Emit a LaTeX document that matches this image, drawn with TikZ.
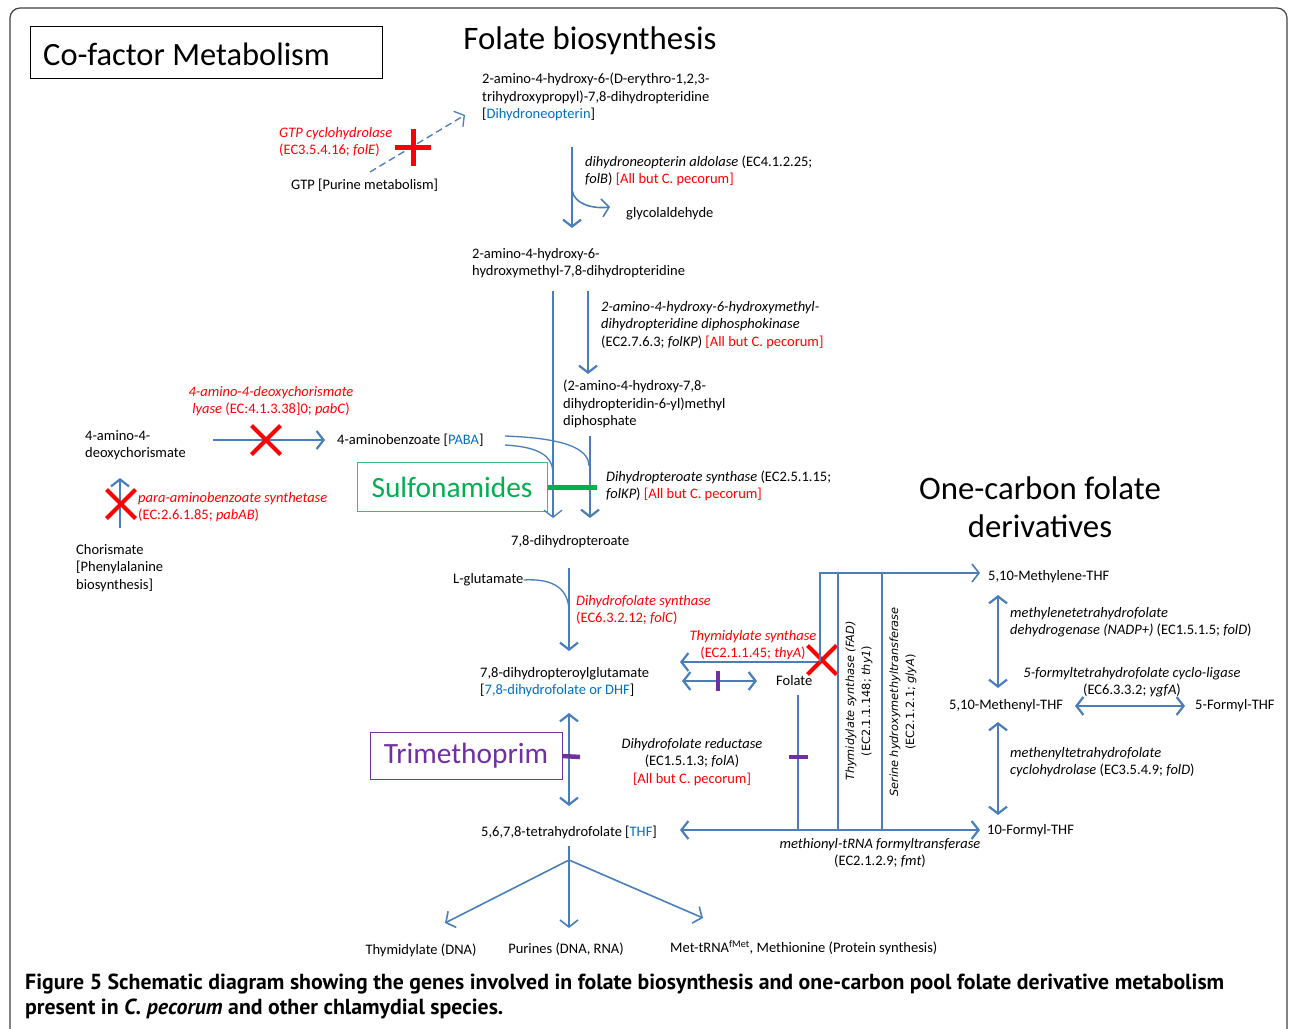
\documentclass[tikz,border=0pt]{standalone}
\usepackage{fontspec}
\setmainfont{Carlito}
\newfontfamily\verdfont{DejaVu Sans}
\newfontfamily\capfont{PT Sans}
\usepackage{tikz}
\usetikzlibrary{arrows.meta, shapes.misc}

\definecolor{arrblue}{HTML}{4A7EBB}
\definecolor{txtblue}{HTML}{0070C0}
\definecolor{sulfgreen}{HTML}{00B050}
\definecolor{trimpurple}{HTML}{7030A0}
\definecolor{framegray}{HTML}{404040}

\newcommand{\txtsz}{\fontsize{14.5}{17.5}\selectfont}
\newcommand{\titlesz}{\fontsize{32.8}{38}\selectfont}

\begin{document}
\begin{tikzpicture}[x=1pt,y=-1pt,
  txt/.style={font=\txtsz, inner sep=0pt, anchor=west, align=left},
  ctxt/.style={font=\txtsz, inner sep=0pt, align=center},
  arr/.style={draw=arrblue, line width=2.2pt, -{Straight Barb[length=7pt,width=18pt]}},
  dblarr/.style={draw=arrblue, line width=2.2pt, {Straight Barb[length=7pt,width=18pt]}-{Straight Barb[length=7pt,width=18pt]}},
  thinline/.style={draw=arrblue, line width=1.3pt},
  knock/.style={cross out, draw=red, line width=4pt, minimum size=25pt, inner sep=0pt},
  tick/.style={draw=trimpurple, line width=4.5pt}]
\useasboundingbox (0,0) rectangle (1290,1028);
% frame
\draw[framegray, line width=1.2pt, rounded corners=10pt] (10,1050) -- (10,8) -- (1287,8) -- (1287,1050);
% titles
\draw[black, line width=1pt] (30,26) rectangle (382,78);
\node[anchor=west, inner sep=0pt, font=\fontsize{32.5}{36}\selectfont] (cofactor) at (43,54) {Co-factor Metabolism};
\node[font=\titlesz, inner sep=0pt] (foltitle) at (590,41) {Folate biosynthesis};
\node[font=\titlesz, inner sep=0pt, align=center] (onec) at (1040,507) {One-carbon folate\\derivatives};

% folate biosynthesis compounds
\node[txt] (dhneo) at (482,97) {2-amino-4-hydroxy-6-(D-erythro-1,2,3-\\trihydroxypropyl)-7,8-dihydropteridine\\{[}\textcolor{txtblue}{Dihydroneopterin}{]}};
\node[txt] (gtp) at (291,185) {GTP [Purine metabolism]};
\node[txt] (glyald) at (626,214) {glycolaldehyde};
\node[txt] (hmdhp) at (472,263) {2-amino-4-hydroxy-6-\\hydroxymethyl-7,8-dihydropteridine};
\node[txt] (dhpp) at (563,404) {(2-amino-4-hydroxy-7,8-\\dihydropteridin-6-yl)methyl\\diphosphate};
\node[txt] (adc) at (85,445) {4-amino-4-\\deoxychorismate};
\node[txt] (paba) at (337,440) {4-aminobenzoate [\textcolor{txtblue}{PABA}]};
\node[txt] (chor) at (76,568) {Chorismate\\{[}Phenylalanine\\biosynthesis{]}};
\node[txt] (dhpt) at (511,542) {7,8-dihydropteroate};
\node[txt] (glu) at (453,580) {L-glutamate};
\node[txt] (dhf) at (480,682) {7,8-dihydropteroylglutamate\\{[}\textcolor{txtblue}{7,8-dihydrofolate or DHF}{]}};
\node[txt] (folate) at (776,681) {Folate};
\node[txt] (thf) at (481,832) {5,6,7,8-tetrahydrofolate [\textcolor{txtblue}{THF}]};
\node[ctxt] (thym) at (421,950) {Thymidylate (DNA)};
\node[ctxt] (pur) at (566,949) {Purines (DNA, RNA)};
\node[txt] (met) at (670,948) {Met-tRNA\textsuperscript{fMet}, Methionine (Protein synthesis)};

% one-carbon compounds
\node[txt] (mthf) at (988,577) {5,10-Methylene-THF};
\node[txt] (menthf) at (949,706) {5,10-Methenyl-THF};
\node[txt] (fthf) at (1195,706) {5-Formyl-THF};
\node[txt] (tfthf) at (987,831) {10-Formyl-THF};

% enzymes
\node[txt, red] (gtpch) at (279,142) {\textit{GTP cyclohydrolase}\\(EC3.5.4.16; \textit{folE})};
\node[txt] (ald) at (585,171) {\textit{dihydroneopterin aldolase} (EC4.1.2.25;\\\textit{folB}) \textcolor{red}{[All but C. pecorum]}};
\node[txt] (kin) at (601,325) {\textit{2-amino-4-hydroxy-6-hydroxymethyl-}\\\textit{dihydropteridine diphosphokinase}\\(EC2.7.6.3; \textit{folKP}) \textcolor{red}{[All but C. pecorum]}};
\node[ctxt, red] (lyase) at (271,401) {\textit{4-amino-4-deoxychorismate}\\\textit{lyase} (EC:4.1.3.38]0; \textit{pabC})};
\node[txt, red] (pabs) at (138,507) {\textit{para-aminobenzoate synthetase}\\(EC:2.6.1.85; \textit{pabAB})};
\node[txt] (dhps) at (606,486) {\textit{Dihydropteroate synthase} (EC2.5.1.15;\\\textit{folKP}) \textcolor{red}{[All but C. pecorum]}};
\node[txt, red] (dhfs) at (576,610) {\textit{Dihydrofolate synthase}\\(EC6.3.2.12; \textit{folC})};
\node[ctxt, red] (thys) at (753,645) {\textit{Thymidylate synthase}\\(EC2.1.1.45; \textit{thyA})};
\node[ctxt] (dhfr) at (692,762) {\textit{Dihydrofolate reductase}\\(EC1.5.1.3; \textit{folA})\\\textcolor{red}{[All but C. pecorum]}};
\node[ctxt, rotate=90, font=\verdfont\fontsize{11.3}{16}\selectfont] (tsfad) at (859,701) {\textit{Thymidylate synthase (FAD)}\\(EC2.1.1.148; \textit{thy1})};
\node[ctxt, rotate=90, font=\verdfont\fontsize{11.3}{16}\selectfont] (shmt) at (903,702) {\textit{Serine hydroxymethyltransferase}\\(EC2.1.2.1; \textit{glyA})};
\node[txt] (mthfd) at (1010,622) {\textit{methylenetetrahydrofolate}\\\textit{dehydrogenase (NADP+)} (EC1.5.1.5; \textit{folD})};
\node[ctxt] (ligase) at (1132,682) {\textit{5-formyltetrahydrofolate cyclo-ligase}\\(EC6.3.3.2; \textit{ygfA})};
\node[txt] (chyd) at (1010,762) {\textit{methenyltetrahydrofolate}\\\textit{cyclohydrolase} (EC3.5.4.9; \textit{folD})};
\node[ctxt] (fmt) at (880,853) {\textit{methionyl-tRNA formyltransferase}\\(EC2.1.2.9; \textit{fmt})};

% inhibitors
\node[draw=sulfgreen!80, line width=1pt, minimum width=190, minimum height=49, inner sep=0pt,
  text=sulfgreen, font=\fontsize{29.4}{32}\selectfont] (sulfa) at (452,487) {Sulfonamides};
\node[draw=trimpurple, line width=1pt, minimum width=192, minimum height=47, inner sep=0pt,
  text=trimpurple, font=\fontsize{29.4}{32}\selectfont] (trim) at (466,756) {Trimethoprim};

% junction points
\coordinate (gtpa) at (370,172); \coordinate (gtpb) at (465,115);
\coordinate (alda) at (572,147); \coordinate (aldb) at (572,228); \coordinate (aldm) at (572,190); \coordinate (glya) at (610,207);
\coordinate (pta) at (553,291); \coordinate (ptb) at (553,518);
\coordinate (kpa) at (588,291); \coordinate (kpb) at (588,374);
\coordinate (dpa) at (590,436); \coordinate (dpb) at (590,518);
\coordinate (lya) at (213,440); \coordinate (lyb) at (325,440);
\coordinate (pba) at (120,528); \coordinate (pbb) at (120,478);
\coordinate (dfa) at (569,568); \coordinate (dfb) at (569,651);
\coordinate (tsa) at (820,662); \coordinate (tsb) at (680,662);
\coordinate (frl) at (682,681); \coordinate (frr) at (757,681);
\coordinate (fola) at (798,695); \coordinate (folb) at (798,830);
\coordinate (brt) at (820,573); \coordinate (mtip) at (980,573);
\coordinate (v1a) at (838,573); \coordinate (v1b) at (838,830);
\coordinate (v2a) at (882,573); \coordinate (v2b) at (882,830);
\coordinate (thfr) at (680,830); \coordinate (ftip) at (980,830);
\coordinate (m1a) at (998,595); \coordinate (m1b) at (998,688);
\coordinate (m2a) at (998,722); \coordinate (m2b) at (998,815);
\coordinate (hl) at (1075,706); \coordinate (hr) at (1185,706);
\coordinate (ra) at (569,713); \coordinate (rb) at (569,806);
\coordinate (ba) at (569,846); \coordinate (bm) at (569,860); \coordinate (bb) at (569,928);
\coordinate (bl) at (445,923); \coordinate (br) at (703,918);

% folate biosynthesis arrows
\draw[arr, line width=1.3pt, dash pattern=on 7pt off 4pt] (gtpa) -- (gtpb);
\draw[red, line width=5pt] (395,147) -- (431,147) (413,129) -- (413,166);
\draw[arr] (alda) -- (aldb);
\draw[arr, line width=1.6pt] (aldm) .. controls (574,204) and (592,209) .. (glya);
\draw[arr, line width=1.3pt] (pta) -- (ptb);
\draw[arr] (kpa) -- (kpb);
\draw[arr] (dpa) -- (dpb);
\draw[thinline] (505,436) .. controls (560,438) and (589,447) .. (589,466);
\draw[thinline] (505,445) .. controls (538,447) and (553,455) .. (553,474);
\draw[arr] (lya) -- (lyb);
\node[knock] (xlyase) at (266,440) {};
\draw[arr] (pba) -- (pbb);
\node[knock] (xpabs) at (121,504) {};
\draw[sulfgreen, line width=5pt] (sulfa.east) -- (597,487);
\draw[thinline] (glu.east) .. controls (555,578) and (569,590) .. (569,612);
\draw[arr] (dfa) -- (dfb);

% folate / one-carbon pool
\draw[arr] (tsa) -- (tsb);
\node[knock] (xthys) at (822,660) {};
\draw[dblarr] (frl) -- (frr);
\draw[tick] (718,671) -- (718,691);
\draw[thinline] (fola) -- (folb);
\draw[tick] (789,757) -- (808,757);
\draw[thinline] (tsa) -- (brt) -- (855,573);
\draw[arr, line width=1.6pt] (brt) -- (mtip);
\draw[thinline] (v1a) -- (v1b);
\draw[thinline] (v2a) -- (v2b);
\draw[dblarr] (thfr) -- (ftip);
\draw[dblarr] (m1a) -- (m1b);
\draw[dblarr] (m2a) -- (m2b);
\draw[dblarr] (hl) -- (hr);
\draw[dblarr] (ra) -- (rb);
\draw[tick] (trim.east) -- (580,757);

% products of THF
\draw[arr, line width=1.6pt] (ba) -- (bb);
\draw[arr, line width=1.6pt] (bm) -- (bl);
\draw[arr, line width=1.6pt] (bm) -- (br);

% caption
\node[anchor=west, inner sep=0pt, align=left, font=\capfont\bfseries\fontsize{21.8}{25}\selectfont] (caption) at (25,996)
  {Figure 5 Schematic diagram showing the genes involved in folate biosynthesis and one-carbon pool folate derivative metabolism\\present in \textit{C. pecorum} and other chlamydial species.};
\end{tikzpicture}
\end{document}
